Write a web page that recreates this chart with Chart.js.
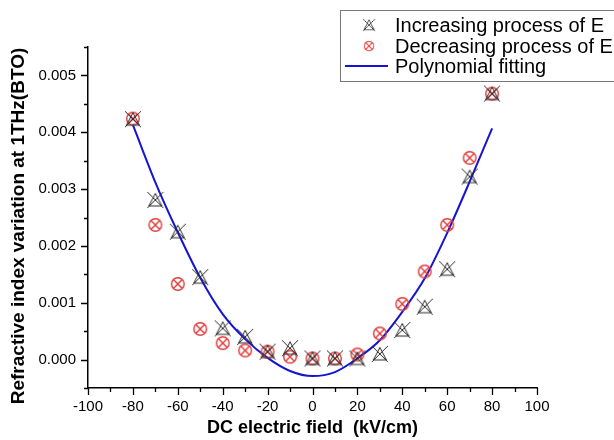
<!DOCTYPE html>
<html>
<head>
<meta charset="utf-8">
<script src="https://cdn.jsdelivr.net/npm/chart.js@4/dist/chart.umd.min.js"></script>
<style>
  html, body { margin: 0; padding: 0; background: #fff; }
  #wrap { width: 614px; height: 440px; position: relative; }
</style>
</head>
<body>
<div id="wrap"><canvas id="c" width="614" height="440"></canvas></div>
<script>
// ---- data ----
const fieldValues = [-80, -70, -60, -50, -40, -30, -20, -10, 0, 10, 20, 30, 40, 50, 60, 70, 80];
const increasingE = [0.00423, 0.00281, 0.00225, 0.00145, 0.00055, 0.00040, 0.00014, 0.00020, 0.00002, 0.00002, 0.00002, 0.00010, 0.00052, 0.00093, 0.00159, 0.00322, 0.00468];
const decreasingE = [0.00424, 0.00237, 0.00133, 0.00054, 0.00029, 0.00016, 0.00014, 0.00005, 0.00002, 0.00002, 0.00009, 0.00046, 0.00098, 0.00155, 0.00237, 0.00355, 0.00468];
const polyFit     = [0.00413, 0.00312, 0.00224, 0.00144, 0.00080, 0.00036, 0.00003, -0.00020, -0.00029, -0.00022, 0.00002, 0.00034, 0.00084, 0.00143, 0.00223, 0.00313, 0.00407];
const seriesNames = ['Increasing process of E', 'Decreasing process of E', 'Polynomial fitting'];
const xTitle = 'DC electric field  (kV/cm)';
const yTitle = 'Refractive index variation at 1THz(BTO)';

// ---- marker images ----
function makeIncMarker() {
  const c = document.createElement('canvas');
  c.width = 18; c.height = 18;
  const g = c.getContext('2d');
  g.strokeStyle = '#2a2a2a';
  g.lineWidth = 1;
  g.beginPath();
  g.moveTo(1, 1); g.lineTo(17, 17);
  g.moveTo(17, 1); g.lineTo(1, 17);
  g.moveTo(9, 2.5); g.lineTo(2.5, 15); g.lineTo(15.5, 15); g.closePath();
  g.stroke();
  return c;
}
function makeDecMarker() {
  const c = document.createElement('canvas');
  c.width = 16; c.height = 16;
  const g = c.getContext('2d');
  g.strokeStyle = '#e23a3a';
  g.lineWidth = 1.4;
  g.beginPath();
  g.arc(8, 8, 6.3, 0, Math.PI * 2);
  g.stroke();
  g.beginPath();
  g.moveTo(3.8, 3.8); g.lineTo(12.2, 12.2);
  g.moveTo(12.2, 3.8); g.lineTo(3.8, 12.2);
  g.stroke();
  return c;
}
const incImg = makeIncMarker();
const decImg = makeDecMarker();
const fitColor = '#1414d2';

const toPts = (arr) => fieldValues.map((x, i) => ({ x: x, y: arr[i] }));

// ---- plugin: axis ticks (major/minor), titles, legend ----
const decor = {
  id: 'decor',
  afterDraw(chart) {
    const ctx = chart.ctx;
    const xs = chart.scales.x, ys = chart.scales.y;
    const area = chart.chartArea;
    ctx.save();
    ctx.strokeStyle = '#000';
    ctx.lineWidth = 1.3;
    ctx.beginPath();
    xs.ticks.forEach(t => {
      const px = Math.round(xs.getPixelForValue(t.value)) + 0.5;
      const major = Math.round(t.value) % 20 === 0;
      ctx.moveTo(px, area.bottom);
      ctx.lineTo(px, area.bottom + (major ? 7 : 4));
    });
    ys.ticks.forEach(t => {
      const py = Math.round(ys.getPixelForValue(t.value)) + 0.5;
      const major = Math.round(t.value / 0.0005) % 2 === 0;
      ctx.moveTo(area.left, py);
      ctx.lineTo(area.left - (major ? 7 : 4), py);
    });
    ctx.stroke();

    // axis titles
    ctx.fillStyle = '#000';
    ctx.font = 'bold 18px "Liberation Sans", Arial, sans-serif';
    ctx.textAlign = 'center';
    ctx.textBaseline = 'middle';
    ctx.fillText(xTitle, 312.5, 428);
    ctx.save();
    ctx.translate(19, 226);
    ctx.rotate(-Math.PI / 2);
    ctx.font = 'bold 19px "Liberation Sans", Arial, sans-serif';
    ctx.fillText(yTitle, 0, 0);
    ctx.restore();

    // legend
    ctx.strokeStyle = '#777';
    ctx.lineWidth = 1;
    ctx.strokeRect(340.5, 10.5, 300, 71);
    ctx.font = '20px "Liberation Sans", Arial, sans-serif';
    ctx.textAlign = 'left';
    ctx.textBaseline = 'middle';
    ctx.fillStyle = '#000';
    const rows = [25, 46, 66];
    ctx.drawImage(incImg, 369 - 7, rows[0] - 7, 14, 14);
    ctx.drawImage(decImg, 369 - 6, rows[1] - 6, 12, 12);
    ctx.strokeStyle = fitColor;
    ctx.lineWidth = 2;
    ctx.beginPath();
    ctx.moveTo(345, rows[2]); ctx.lineTo(388, rows[2]);
    ctx.stroke();
    seriesNames.forEach((n, i) => ctx.fillText(n, 395, rows[i] + 1));
    ctx.restore();
  }
};

new Chart(document.getElementById('c'), {
  type: 'scatter',
  data: {
    datasets: [
      {
        label: seriesNames[2],
        data: toPts(polyFit),
        showLine: true,
        borderColor: fitColor,
        borderWidth: 2,
        pointRadius: 0,
        pointHoverRadius: 0,
        cubicInterpolationMode: 'monotone',
        order: 3
      },
      {
        label: seriesNames[1],
        data: toPts(decreasingE),
        pointStyle: decImg,
        showLine: false,
        order: 2
      },
      {
        label: seriesNames[0],
        data: toPts(increasingE),
        pointStyle: incImg,
        showLine: false,
        order: 1
      }
    ]
  },
  options: {
    responsive: false,
    animation: false,
    devicePixelRatio: 1,
    layout: { padding: { top: 47, right: 77, bottom: 0, left: 0 } },
    plugins: {
      legend: { display: false },
      tooltip: { enabled: false },
      title: { display: false }
    },
    scales: {
      x: {
        type: 'linear',
        min: -100, max: 100,
        afterFit: (s) => { s.height = 52; },
        grid: { display: true, drawOnChartArea: false, tickLength: 7, tickColor: 'rgba(0,0,0,0)' },
        border: { display: true, color: '#000', width: 1.5 },
        ticks: {
          stepSize: 10,
          autoSkip: false,
          maxRotation: 0,
          padding: 3,
          color: '#000',
          font: { family: '"Liberation Sans", Arial, sans-serif', size: 15 },
          callback: (v) => (Math.round(v) % 20 === 0 ? String(Math.round(v)) : '')
        }
      },
      y: {
        type: 'linear',
        min: -0.0005, max: 0.0055,
        afterFit: (s) => { s.width = 88; },
        grid: { display: true, drawOnChartArea: false, tickLength: 7, tickColor: 'rgba(0,0,0,0)' },
        border: { display: true, color: '#000', width: 1.5 },
        ticks: {
          stepSize: 0.0005,
          autoSkip: false,
          padding: 5,
          color: '#000',
          font: { family: '"Liberation Sans", Arial, sans-serif', size: 15 },
          callback: (v) => {
            const k = Math.round(v / 0.0005);
            return (k % 2 === 0 && k >= 0) ? (k * 0.0005).toFixed(3) : '';
          }
        }
      }
    }
  },
  plugins: [decor]
});
</script>
</body>
</html>
